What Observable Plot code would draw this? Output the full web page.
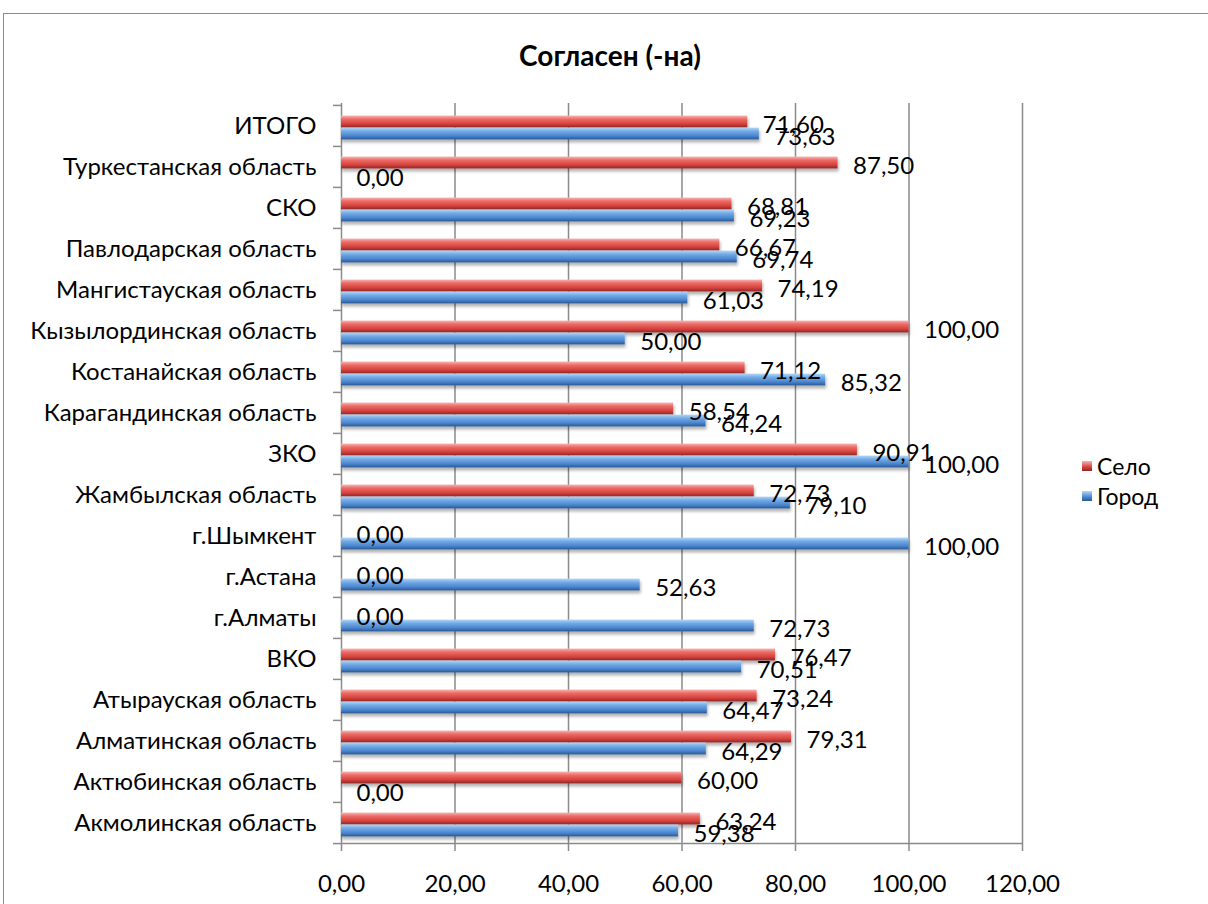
<!DOCTYPE html>
<html>
<head>
<meta charset="utf-8">
<script src="https://cdn.jsdelivr.net/npm/d3@7"></script>
<script src="https://cdn.jsdelivr.net/npm/@observablehq/plot@0.6"></script>
<style>
  html, body { margin: 0; padding: 0; background: #fff; overflow: hidden; }
  #wrap { position: relative; width: 1208px; height: 904px; overflow: hidden; font-family: Lato, "Open Sans", sans-serif; }
  #border { position: absolute; left: 3px; top: 13px; width: 1240px; height: 940px; border: 1.5px solid #8a8a8a; box-sizing: border-box; }
  #title { position: absolute; left: 0; width: 1220px; top: 38px; text-align: center; font-weight: bold; font-size: 28px; color: #000; }
  #chart { position: absolute; left: 0; top: 0; }
  .leg { position: absolute; left: 1082px; font-size: 23px; color: #000; display: flex; align-items: center; }
  .leg i { display: inline-block; width: 10px; height: 10px; margin-right: 5px; }
</style>
</head>
<body>
<svg width="0" height="0" style="position:absolute">
  <defs>
    <linearGradient id="gRed" x1="0" y1="0" x2="0" y2="1">
      <stop offset="0" stop-color="#f7b3b0"/>
      <stop offset="0.3" stop-color="#ec6a65"/>
      <stop offset="0.7" stop-color="#d6423d"/>
      <stop offset="1" stop-color="#8f2724"/>
    </linearGradient>
    <linearGradient id="gBlue" x1="0" y1="0" x2="0" y2="1">
      <stop offset="0" stop-color="#b5d6f6"/>
      <stop offset="0.3" stop-color="#74abe6"/>
      <stop offset="0.7" stop-color="#4b86cf"/>
      <stop offset="1" stop-color="#2a5893"/>
    </linearGradient>
    <filter id="shadow" x="-5%" y="-50%" width="110%" height="250%">
      <feDropShadow dx="1" dy="3" stdDeviation="1.5" flood-color="#000" flood-opacity="0.3"/>
    </filter>
  </defs>
</svg>
<div id="wrap">
  <div id="border"></div>
  <div id="title">Согласен (-на)</div>
  <div id="chart"></div>
  <div class="leg" style="top:452px"><i style="background:linear-gradient(#f7b3b0,#d6423d 60%,#8f2724)"></i>Село</div>
  <div class="leg" style="top:482px"><i style="background:linear-gradient(#b5d6f6,#4b86cf 60%,#2a5893)"></i>Город</div>
</div>
<script>
const categories = [
  "ИТОГО", "Туркестанская область", "СКО", "Павлодарская область",
  "Мангистауская область", "Кызылординская область", "Костанайская область",
  "Карагандинская область", "ЗКО", "Жамбылская область", "г.Шымкент",
  "г.Астана", "г.Алматы", "ВКО", "Атырауская область", "Алматинская область",
  "Актюбинская область", "Акмолинская область"
];
const seloValues  = [71.60, 87.50, 68.81, 66.67, 74.19, 100.00, 71.12, 58.54, 90.91, 72.73, 0.00, 0.00, 0.00, 76.47, 73.24, 79.31, 60.00, 63.24];
const gorodValues = [73.63, 0.00, 69.23, 69.74, 61.03, 50.00, 85.32, 64.24, 100.00, 79.10, 100.00, 52.63, 72.73, 70.51, 64.47, 64.29, 0.00, 59.38];
const xTicks = [0, 20, 40, 60, 80, 100, 120];
const seriesNames = ["Село", "Город"];

const fmt = v => d3.format(".2f")(v).replace(".", ",");

const selo = categories.map((c, i) => ({category: c, series: seriesNames[0], value: seloValues[i]}));
const gorod = categories.map((c, i) => ({category: c, series: seriesNames[1], value: gorodValues[i]}));

const W = 1208, H = 904, mt = 103, mb = 60, ml = 341, mr = 186;
const bw = (H - mt - mb) / categories.length;
const half = bw / 2;
const grid = "#8a8a8a";
const FS = 24;

const chart = Plot.plot({
  width: W, height: H,
  marginTop: mt, marginBottom: mb, marginLeft: ml, marginRight: mr,
  style: {fontFamily: "Lato, 'Open Sans', sans-serif", fontSize: FS + "px", color: "#000", background: "transparent"},
  x: {domain: [0, 120], ticks: xTicks},
  y: {domain: categories, padding: 0},
  marks: [
    Plot.ruleX(xTicks, {stroke: grid, strokeWidth: 1.5}),
    Plot.ruleY([categories[categories.length - 1]], {dy: half, stroke: grid, strokeWidth: 1.5}),
    Plot.axisX({ticks: xTicks, tickSize: 7, tickPadding: 23, tickFormat: fmt, stroke: grid, strokeWidth: 1.5, label: null, fontSize: FS}),
    Plot.axisY({tickSize: 0, tickPadding: 25, label: null, fontSize: FS}),
    Plot.axisY({tickSize: 8, dy: -half, tickFormat: () => "", stroke: grid, strokeWidth: 1.5, label: null}),
    Plot.axisY({ticks: [categories[categories.length - 1]], tickSize: 8, dy: half, tickFormat: () => "", stroke: grid, strokeWidth: 1.5, label: null}),
    Plot.barX(selo, {x: "value", y: "category", fill: "url(#gRed)", insetTop: half - 10, insetBottom: half - 2, className: "bars"}),
    Plot.barX(gorod, {x: "value", y: "category", fill: "url(#gBlue)", insetTop: half + 2, insetBottom: half - 14, className: "bars"}),
    Plot.text(selo, {x: "value", y: "category", text: d => fmt(d.value), dx: 15, dy: -1, textAnchor: "start", fill: "#000", fontSize: FS}),
    Plot.text(gorod, {x: "value", y: "category", text: d => fmt(d.value), dx: 15, dy: 11, textAnchor: "start", fill: "#000", fontSize: FS})
  ]
});
chart.querySelectorAll("g.bars").forEach(g => g.setAttribute("filter", "url(#shadow)"));
document.getElementById("chart").appendChild(chart);
</script>
</body>
</html>
